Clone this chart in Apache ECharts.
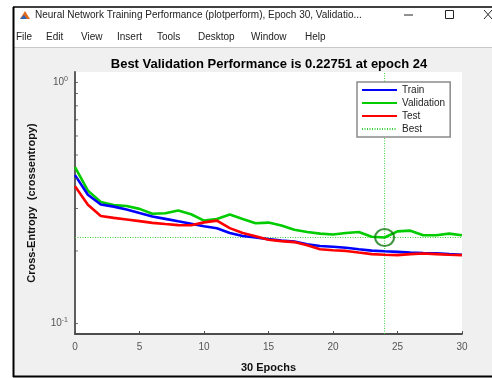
<!DOCTYPE html>
<html>
<head>
<meta charset="utf-8">
<script src="https://cdn.jsdelivr.net/npm/echarts@6/dist/echarts.min.js"></script>
<style>html,body{margin:0;padding:0;background:#fff;}#c{width:492px;height:378px;}</style>
</head>
<body>
<div id="c"></div>
<script>
const epochs = [0,1,2,3,4,5,6,7,8,9,10,11,12,13,14,15,16,17,18,19,20,21,22,23,24,25,26,27,28,29,30];
const trainPerf = [0.4126,0.3423,0.3118,0.3055,0.2971,0.2872,0.2782,0.2718,0.2655,0.2594,0.2534,0.2483,0.2374,0.2308,0.2274,0.2239,0.2208,0.2187,0.2131,0.2097,0.2082,0.2064,0.2033,0.2007,0.1994,0.1982,0.1970,0.1959,0.1955,0.1940,0.1928];
const valPerf = [0.4455,0.3560,0.3190,0.3100,0.3075,0.2990,0.2853,0.2866,0.2943,0.2840,0.2673,0.2716,0.2835,0.2716,0.2606,0.2623,0.2550,0.2450,0.2396,0.2360,0.2339,0.2374,0.2396,0.2290,0.22751,0.2412,0.2428,0.2324,0.2324,0.2360,0.2324];
const testPerf = [0.3713,0.3110,0.2795,0.2744,0.2703,0.2660,0.2616,0.2587,0.2561,0.2556,0.2628,0.2673,0.2487,0.2374,0.2302,0.2226,0.2197,0.2177,0.2111,0.2033,0.2014,0.2001,0.1970,0.1940,0.1928,0.1922,0.1940,0.1952,0.1940,0.1928,0.1922];
const bestEpoch = 24;
const bestPerf = 0.22751;
const seriesNames = ['Train','Validation','Test','Best'];
const yMinorTicks = [0.1,0.2,0.3,0.4,0.5,0.6,0.7,0.8,0.9,1];
const xTickLabels = ['0','5','10','15','20','25','30'];
const windowTitle = 'Neural Network Training Performance (plotperform), Epoch 30, Validatio...';
const menuItems = ['File','Edit','View','Insert','Tools','Desktop','Window','Help'];
const chartTitle = 'Best Validation Performance is ' + bestPerf + ' at epoch ' + bestEpoch;

const yMin = 0.0905, yMax = 1.105, xMin = 0, xMax = 30;
const pairs = arr => epochs.map((e, i) => [e, arr[i]]);

const menuX = [16, 46, 81, 117, 157, 198, 251, 305];
const FONT = '"Liberation Sans", Arial, sans-serif';

const graphics = [
  {type:'rect', z:-5, shape:{x:13, y:48, width:479, height:328}, style:{fill:'#f0f0f0'}},
  {type:'line', z:-4, shape:{x1:13, y1:47.5, x2:492, y2:47.5}, style:{stroke:'#c8c8c8', lineWidth:1}},
  {type:'line', z:-4, shape:{x1:13, y1:7, x2:492, y2:7}, style:{stroke:'#000', lineWidth:1.5}},
  {type:'line', z:-4, shape:{x1:13.5, y1:7, x2:13.5, y2:377}, style:{stroke:'#000', lineWidth:2}},
  {type:'line', z:-4, shape:{x1:13, y1:376.5, x2:492, y2:376.5}, style:{stroke:'#000', lineWidth:2}},
  {type:'polygon', z:-4, shape:{points:[[20,19],[25,11],[30,19]]}, style:{fill:'#e06a1b'}},
  {type:'polygon', z:-4, shape:{points:[[20,19],[24,15],[27,19]]}, style:{fill:'#2b63b8'}},
  {type:'text', z:-4, x:35, y:15, style:{text:windowTitle, font:'10px ' + FONT, fill:'#222', verticalAlign:'middle'}},
  {type:'line', z:-4, shape:{x1:404, y1:15, x2:413, y2:15}, style:{stroke:'#222', lineWidth:1}},
  {type:'rect', z:-4, shape:{x:445.5, y:10.5, width:8, height:8}, style:{fill:'none', stroke:'#222', lineWidth:1}},
  {type:'line', z:-4, shape:{x1:484, y1:10, x2:492, y2:19}, style:{stroke:'#222', lineWidth:1}},
  {type:'line', z:-4, shape:{x1:492, y1:10, x2:484, y2:19}, style:{stroke:'#222', lineWidth:1}},
  {type:'text', z:10, x:269, y:64, style:{text:chartTitle, font:'bold 13px ' + FONT, fill:'#000', align:'center', verticalAlign:'middle'}}
];
menuItems.forEach((m, i) => graphics.push({type:'text', z:-4, x:menuX[i], y:37, style:{text:m, font:'10px ' + FONT, fill:'#222', verticalAlign:'middle'}}));

const chart = echarts.init(document.getElementById('c'), null, {renderer:'canvas'});
chart.setOption({
  backgroundColor:'#ffffff',
  animation:false,
  textStyle:{fontFamily:FONT},
  graphic:graphics,
  grid:{left:75, right:30, top:72, bottom:38, show:true, backgroundColor:'#ffffff', borderWidth:0},
  legend:{
    data:seriesNames, orient:'vertical', left:357, top:82,
    itemWidth:35, itemHeight:10, itemGap:3, padding:[3,5,3,4],
    itemStyle:{opacity:0},
    backgroundColor:'#ffffff', borderColor:'#8a8a8a', borderWidth:1.5, borderRadius:0,
    textStyle:{fontSize:10, color:'#222', fontFamily:FONT}, selectedMode:false
  },
  xAxis:{
    type:'value', min:xMin, max:xMax, interval:5,
    name:'30 Epochs', nameLocation:'middle', nameGap:28,
    nameTextStyle:{fontWeight:'bold', fontSize:11, color:'#111'},
    axisLine:{lineStyle:{color:'#4d4d4d', width:1.8}},
    axisTick:{inside:true, length:3, lineStyle:{color:'#4d4d4d'}},
    axisLabel:{fontSize:10, color:'#555', margin:8, formatter:v => xTickLabels[Math.round(v/5)]},
    splitLine:{show:false}
  },
  yAxis:{
    type:'log', min:yMin, max:yMax, logBase:10,
    name:'Cross-Entropy  (crossentropy)', nameLocation:'middle', nameGap:38, nameRotate:90,
    nameTextStyle:{fontWeight:'bold', fontSize:11, color:'#111'},
    axisLine:{show:true, lineStyle:{color:'#4d4d4d', width:1.8}},
    axisTick:{show:false},
    splitLine:{show:false},
    axisLabel:{
      margin:7, color:'#555',
      formatter:v => {
        const l = Math.log10(v), r = Math.round(l);
        if (Math.abs(l - r) > 0.01) return '';
        return '{b|10}{s|' + r + '}';
      },
      rich:{b:{fontSize:10, color:'#555'}, s:{fontSize:7, color:'#555', padding:[0,0,7,0]}}
    }
  },
  series:[
    {name:'Train', type:'line', data:pairs(trainPerf), symbol:'none', lineStyle:{color:'#0000ff', width:2.6}, itemStyle:{color:'#0000ff'}, z:4},
    {name:'Validation', type:'line', data:pairs(valPerf), symbol:'none', lineStyle:{color:'#00cc00', width:2.6}, itemStyle:{color:'#00cc00'}, z:3},
    {name:'Test', type:'line', data:pairs(testPerf), symbol:'none', lineStyle:{color:'#ff0000', width:2.6}, itemStyle:{color:'#ff0000'}, z:5},
    {name:'Best', type:'line', data:[[xMin,bestPerf],[xMax,bestPerf]], symbol:'none', lineStyle:{color:'#3ccf3c', width:1, type:[1,1.5]}, itemStyle:{color:'#3ccf3c'}, z:2, silent:true},
    {name:'Best', type:'line', data:[[bestEpoch,yMin],[bestEpoch,yMax]], symbol:'none', lineStyle:{color:'#3ccf3c', width:1, type:[1,1.5]}, itemStyle:{color:'#3ccf3c'}, z:2, silent:true},
    {name:'BestCircle', type:'scatter', data:[[bestEpoch,bestPerf]], symbol:'circle', symbolSize:[19,17], itemStyle:{color:'rgba(0,0,0,0)', borderColor:'#127a12', borderWidth:2}, z:6, silent:true},
    {name:'yTicks', type:'scatter', data:yMinorTicks.map(v => [xMin, v]), symbol:'rect', symbolSize:[3,1], symbolOffset:[1.5,0], itemStyle:{color:'#4d4d4d'}, z:6, silent:true}
  ]
});
</script>
</body>
</html>
